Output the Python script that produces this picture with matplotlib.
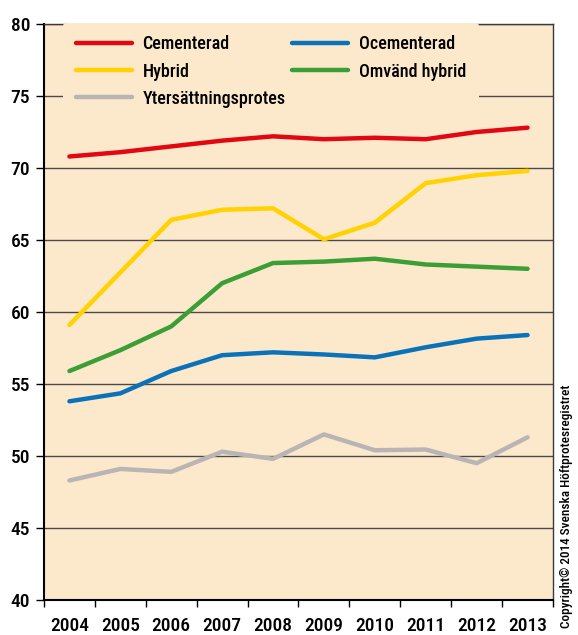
import matplotlib
matplotlib.use("Agg")
import matplotlib.pyplot as plt
from matplotlib import font_manager
import numpy as np

years = ["2004", "2005", "2006", "2007", "2008", "2009", "2010", "2011", "2012", "2013"]

cementerad = [70.8, 71.1, 71.5, 71.9, 72.2, 72.0, 72.1, 72.0, 72.5, 72.8]
ocementerad = [53.8, 54.35, 55.9, 57.0, 57.2, 57.05, 56.85, 57.55, 58.15, 58.4]
hybrid = [59.1, 62.75, 66.4, 67.1, 67.2, 65.05, 66.2, 68.95, 69.5, 69.8]
omvand_hybrid = [55.9, 57.35, 59.0, 62.0, 63.4, 63.5, 63.7, 63.3, 63.15, 63.0]
ytersattning = [48.3, 49.1, 48.9, 50.3, 49.8, 51.5, 50.4, 50.45, 49.5, 51.3]

# pick a narrow font if one is installed
names = {f.name for f in font_manager.fontManager.ttflist}
font = "DejaVu Sans"
for cand in ["Roboto Condensed", "Liberation Sans Narrow", "DejaVu Sans Condensed"]:
    if cand in names:
        font = cand
        break
plt.rcParams["font.family"] = [font, "DejaVu Sans"]
plt.rcParams["font.weight"] = "medium"

bg = "#fce9cc"
fig = plt.figure(figsize=(5.78, 6.35), dpi=100)
ax = fig.add_axes([44 / 578, 1 - 600 / 635, 509 / 578, 576 / 635])
ax.set_facecolor(bg)

x = np.arange(len(years))
series = [
    ("Cementerad", cementerad, "#e30613"),
    ("Hybrid", hybrid, "#ffd200"),
    ("Ytersättningsprotes", ytersattning, "#b9b5b5"),
    ("Ocementerad", ocementerad, "#0a72b9"),
    ("Omvänd hybrid", omvand_hybrid, "#3c9f36"),
]
for label, vals, col in series:
    ax.plot(x, vals, color=col, lw=3.2, label=label, solid_capstyle="round", zorder=3)

ax.set_xlim(-0.5, len(years) - 0.5)
ax.set_ylim(40, 80)
ax.set_yticks(np.arange(40, 81, 5))
ax.grid(axis="y", color="#4a4a4a", lw=1)
ax.set_axisbelow(True)

# ticks at the bin edges, labels centred
ax.set_xticks(np.arange(-0.5, len(years), 1.0))
ax.set_xticklabels([])
ax.set_xticks(x, minor=True)
ax.set_xticklabels(years, minor=True)
ax.tick_params(axis="x", which="major", direction="out", length=5, width=1)
ax.tick_params(axis="x", which="minor", length=0, pad=12, labelsize=14)
ax.tick_params(axis="y", direction="out", length=6, width=1, labelsize=14, pad=4)

for side in ["left", "bottom"]:
    ax.spines[side].set_linewidth(1.5)
    ax.spines[side].set_color("black")
for side in ["top", "right"]:
    ax.spines[side].set_linewidth(1)
    ax.spines[side].set_color("#3a3a3a")

fs = 13
leg = ax.legend(loc="upper left", bbox_to_anchor=(19 / 509, 1.002), ncol=2, frameon=True,
                facecolor=bg, edgecolor="none", framealpha=1,
                prop={"size": fs}, borderaxespad=0,
                handlelength=3.1, handletextpad=0.6, labelspacing=0.5,
                columnspacing=0.35, borderpad=0.7)
leg.set_zorder(4)

fig.text(566 / 578, 1 - 506 / 635, "Copyright© 2014 Svenska Höftprotesregistret",
         rotation=90, ha="center", va="center", fontsize=9.5)

fig.savefig("out.png", dpi=100, facecolor="white")
